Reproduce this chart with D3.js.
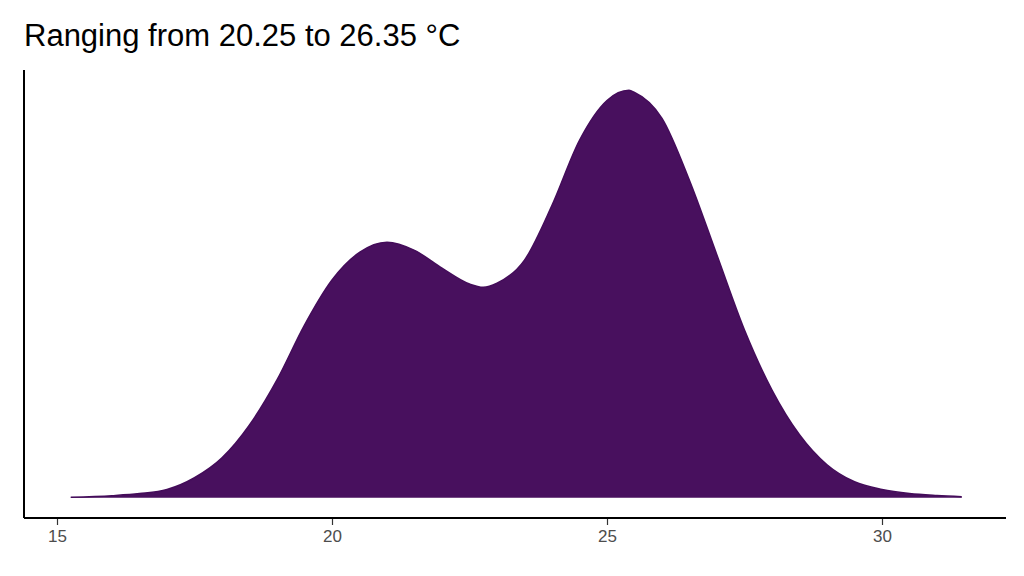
<!DOCTYPE html>
<html><head><meta charset="utf-8">
<script src="https://cdn.jsdelivr.net/npm/d3@7"></script>
<style>body{margin:0;background:#fff}svg{display:block}</style>
</head><body>
<svg id="c" width="1024" height="576"></svg>
<script>
const temps = [15.25,16,16.5,17,17.5,18,18.5,19,19.5,20,20.5,21,21.5,22,22.5,22.75,23,23.5,24,24.5,25,25.4,25.5,26,26.5,27,27.5,28,28.5,29,29.5,30,30.5,31,31.45];
const density = [0.0007,0.0049,0.010,0.020,0.049,0.098,0.179,0.290,0.425,0.536,0.604,0.629,0.609,0.565,0.526,0.518,0.528,0.585,0.720,0.880,0.978,1.003,0.998,0.934,0.781,0.597,0.413,0.265,0.155,0.081,0.039,0.020,0.010,0.005,0.002].map(v=>v*0.15);
const xTicks = [15,20,25,30];
const title = "Ranging from 20.25 to 26.35 °C";

const svg = d3.select("#c");
const x = d3.scaleLinear().domain([15,30]).range([57,882]);
const m = d3.max(density);
const y = d3.scaleLinear().domain([-0.05*m, 1.05*m]).range([518,70]);
const pts = temps.map((t,i)=>[t,density[i]]);
const area = d3.area().x(d=>x(d[0])).y0(y(0)).y1(d=>y(d[1])).curve(d3.curveMonotoneX);
const line = d3.line().x(d=>x(d[0])).y(d=>y(d[1])).curve(d3.curveMonotoneX);
svg.append("path").attr("d",area(pts)).attr("fill","#48105e");
svg.append("path").attr("d",line(pts)).attr("fill","none").attr("stroke","#440c5a").attr("stroke-width",1.5);

const gx = svg.append("g").attr("transform","translate(0,518)")
  .call(d3.axisBottom(x).tickValues(xTicks).tickSize(7).tickPadding(5).tickFormat(d3.format("d")));
gx.select(".domain").remove();
gx.selectAll("line").attr("stroke","#333").attr("stroke-width",1.2);
gx.selectAll("text").attr("fill","#4d4d4d").style("font-family","Liberation Sans, Arial, sans-serif").style("font-size","17px");
svg.append("line").attr("x1",24).attr("x2",1006).attr("y1",518).attr("y2",518).attr("stroke","#000").attr("stroke-width",2);
svg.append("line").attr("x1",24).attr("x2",24).attr("y1",70).attr("y2",518).attr("stroke","#000").attr("stroke-width",2);
svg.append("text").attr("x",24).attr("y",46).text(title)
  .style("font-family","Liberation Sans, Arial, sans-serif").style("font-size","31px").attr("fill","#000");
</script>
</body></html>
